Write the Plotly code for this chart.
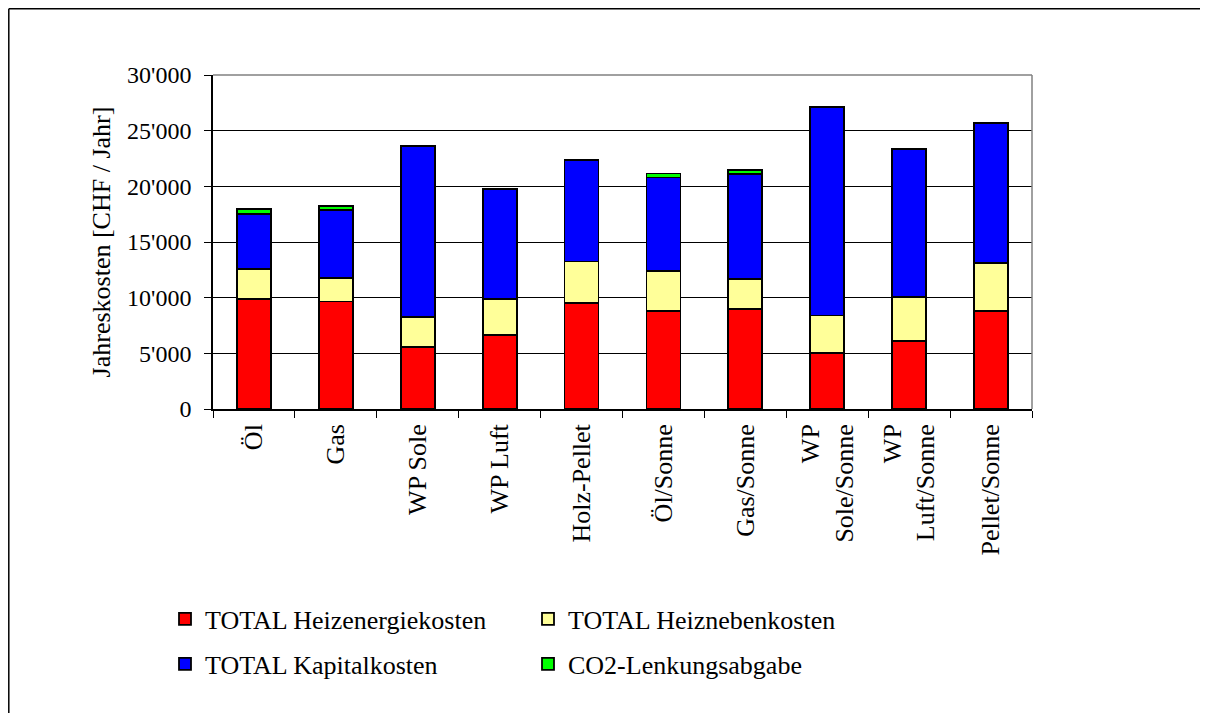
import plotly.graph_objects as go

categories = ["Öl", "Gas", "WP Sole", "WP Luft", "Holz-Pellet",
              "Öl/Sonne", "Gas/Sonne", "WP<br>Sole/Sonne", "WP<br>Luft/Sonne", "Pellet/Sonne"]
heizenergie = [9850, 9650, 5550, 6650, 9500, 8800, 8950, 5000, 6100, 8800]
heiznebenkosten = [2700, 2150, 2700, 3250, 3750, 3600, 2700, 3400, 3950, 4300]
kapitalkosten = [5000, 6100, 15400, 9850, 9150, 8400, 9450, 18700, 13300, 12600]
co2_abgabe = [400, 350, 0, 0, 0, 350, 400, 0, 0, 0]

series_names = ["TOTAL Heizenergiekosten", "TOTAL Heiznebenkosten",
                "TOTAL Kapitalkosten", "CO2-Lenkungsabgabe"]
series_values = [heizenergie, heiznebenkosten, kapitalkosten, co2_abgabe]
series_colors = ["#FF0000", "#FFFF99", "#0000FF", "#00FF00"]
legend_ids = ["legend", "legend2", "legend3", "legend4"]

FONT = "Liberation Serif"

fig = go.Figure()
for name, vals, col, lg in zip(series_names, series_values, series_colors, legend_ids):
    fig.add_trace(go.Bar(
        x=categories, y=vals, name=name, legend=lg,
        marker=dict(color=col, line=dict(color="black", width=1.8)),
    ))

# page is offset by the 8px body margin
OFF = 8
W, H = 1208 - OFF, 713 - OFF
L, R, T, B = 213 - OFF, 176, 75 - OFF, 304
pw, ph = W - L - R, H - T - B

def px_x(px):
    return (px - OFF - L) / pw

def px_y(py):
    return (H - B - (py - OFF)) / ph

legend_common = dict(font=dict(family=FONT, size=26, color="black"),
                     bgcolor="rgba(0,0,0,0)", xanchor="left", yanchor="middle")
fig.update_layout(
    legend=dict(x=px_x(165), y=px_y(619), **legend_common),
    legend2=dict(x=px_x(528), y=px_y(619), **legend_common),
    legend3=dict(x=px_x(165), y=px_y(664), **legend_common),
    legend4=dict(x=px_x(528), y=px_y(664), **legend_common),
)

fig.update_layout(
    width=W, height=H,
    margin=dict(l=L, r=R, t=T, b=B, autoexpand=False),
    barmode="stack", bargap=0.585,
    plot_bgcolor="white", paper_bgcolor="white",
    separators=".'",
    font=dict(family=FONT, color="black"),
    xaxis=dict(
        tickangle=-90, tickson="boundaries", ticks="outside", ticklen=7,
        tickcolor="black", showline=True, linecolor="black", linewidth=1.5,
        tickfont=dict(family=FONT, size=26, color="black"),
        ticklabelstandoff=3, showgrid=False,
    ),
    yaxis=dict(
        range=[0, 30000], dtick=5000, tickformat=",d",
        ticks="outside", ticklen=7, tickcolor="black",
        showline=True, linecolor="black", linewidth=1.5,
        showgrid=True, gridcolor="black", gridwidth=1,
        tickfont=dict(family=FONT, size=24, color="black"),
        ticklabelstandoff=8, zeroline=False,
        title=dict(text="Jahreskosten [CHF / Jahr]",
                   font=dict(family=FONT, size=26, color="black"), standoff=9),
    ),
    showlegend=True,
)

# plot area border (top and right, gray)
fig.add_shape(type="line", xref="paper", yref="paper", x0=0, x1=1, y0=1, y1=1,
              line=dict(color="#808080", width=1.5))
fig.add_shape(type="line", xref="paper", yref="paper", x0=1, x1=1, y0=0, y1=1,
              line=dict(color="#808080", width=1.5))
# outer chart frame (top and left visible)
fig.add_shape(type="line", xref="paper", yref="paper",
              x0=px_x(8.8), x1=px_x(1230), y0=px_y(8.8), y1=px_y(8.8),
              line=dict(color="black", width=1.5))
fig.add_shape(type="line", xref="paper", yref="paper",
              x0=px_x(8.8), x1=px_x(8.8), y0=px_y(8.8), y1=px_y(740),
              line=dict(color="black", width=1.5))

fig.write_html("out.html")
